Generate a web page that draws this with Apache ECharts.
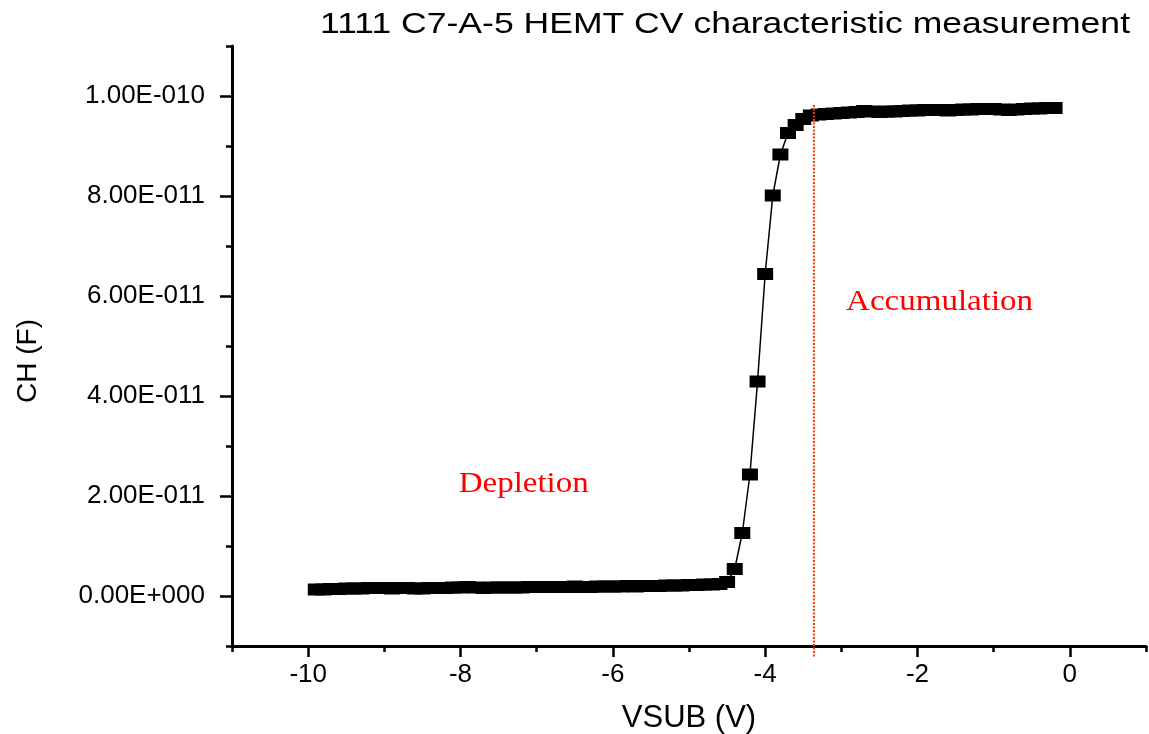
<!DOCTYPE html>
<html><head><meta charset="utf-8">
<script src="https://cdn.jsdelivr.net/npm/echarts@6/dist/echarts.min.js"></script>
<style>html,body{margin:0;padding:0;background:#fff}#c{width:1149px;height:734px}</style>
</head><body><div id="c"></div>
<script>
// ---- data ----
const vsub = [
  -9.9,-9.8,-9.7,-9.6,-9.5,-9.4,-9.3,-9.2,-9.1,-9.0,
  -8.9,-8.8,-8.7,-8.6,-8.5,-8.4,-8.3,-8.2,-8.1,-8.0,
  -7.9,-7.8,-7.7,-7.6,-7.5,-7.4,-7.3,-7.2,-7.1,-7.0,
  -6.9,-6.8,-6.7,-6.6,-6.5,-6.4,-6.3,-6.2,-6.1,-6.0,
  -5.9,-5.8,-5.7,-5.6,-5.5,-5.4,-5.3,-5.2,-5.1,-5.0,
  -4.9,-4.8,-4.7,-4.6,-4.5,-4.4,-4.3,-4.2,-4.1,-4.0,
  -3.9,-3.8,-3.7,-3.6,-3.5,-3.4,-3.3,-3.2,-3.1,-3.0,
  -2.9,-2.8,-2.7,-2.6,-2.5,-2.4,-2.3,-2.2,-2.1,-2.0,
  -1.9,-1.8,-1.7,-1.6,-1.5,-1.4,-1.3,-1.2,-1.1,-1.0,
  -0.9,-0.8,-0.7,-0.6,-0.5,-0.4,-0.3,-0.2
];
const ch = [
  1.3e-12,1.3e-12,1.4e-12,1.4e-12,1.5e-12,1.5e-12,1.5e-12,1.6e-12,1.6e-12,1.6e-12,
  1.5e-12,1.6e-12,1.6e-12,1.5e-12,1.5e-12,1.6e-12,1.6e-12,1.6e-12,1.7e-12,1.7e-12,
  1.8e-12,1.7e-12,1.6e-12,1.7e-12,1.7e-12,1.7e-12,1.7e-12,1.7e-12,1.8e-12,1.8e-12,
  1.8e-12,1.8e-12,1.8e-12,1.8e-12,1.9e-12,1.8e-12,1.8e-12,1.9e-12,1.9e-12,1.9e-12,
  1.9e-12,2.0e-12,1.9e-12,2.0e-12,2.0e-12,2.0e-12,2.1e-12,2.1e-12,2.1e-12,2.2e-12,
  2.2e-12,2.3e-12,2.3e-12,2.4e-12,2.8e-12,5.4e-12,1.26e-11,2.43e-11,4.29e-11,6.44e-11,
  8.01e-11,8.83e-11,9.26e-11,9.42e-11,9.54e-11,9.61e-11,9.63e-11,9.64e-11,9.65e-11,9.66e-11,
  9.67e-11,9.68e-11,9.70e-11,9.69e-11,9.68e-11,9.69e-11,9.69e-11,9.70e-11,9.71e-11,9.71e-11,
  9.72e-11,9.72e-11,9.72e-11,9.71e-11,9.72e-11,9.73e-11,9.73e-11,9.74e-11,9.74e-11,9.74e-11,
  9.73e-11,9.72e-11,9.73e-11,9.74e-11,9.75e-11,9.75e-11,9.76e-11,9.76e-11
];
const xMajorTicks = [-10, -8, -6, -4, -2, 0];
const xMinorTicks = [-11, -9, -7, -5, -3, -1, 1];
const yMajorTicks = [0, 2e-11, 4e-11, 6e-11, 8e-11, 1e-10];
const yMinorTicks = [-1e-11, 1e-11, 3e-11, 5e-11, 7e-11, 9e-11, 1.1e-10];
const boundaryV = [-3.36, -3.36];
const boundaryC = [9.82e-11, -1.22e-11];
const titleText = '1111 C7-A-5 HEMT CV characteristic measurement';
const annoText = ['Depletion', 'Accumulation'];
const annoV = [-7.17, -1.71];
const annoC = [2.23e-11, 5.87e-11];

function fmtE(v) {
  if (Math.abs(v) < 1e-20) return '0.00E+000';
  const s = v.toExponential(2);
  const parts = s.split('e');
  const sign = parts[1][0];
  const digits = parts[1].slice(1).padStart(3, '0');
  return parts[0] + 'E' + sign + digits;
}

const FONT = '"Liberation Sans", Arial, sans-serif';
const pts = vsub.map((v, i) => [v, ch[i]]);
const boundary = boundaryV.map((v, i) => [v, boundaryC[i]]);

const chart = echarts.init(document.getElementById('c'), null, {renderer: 'canvas'});
const xCommon = {type: 'value', min: -11, max: 1, position: 'bottom', splitLine: {show: false}};
const yCommon = {type: 'value', min: -1e-11, max: 1.1e-10, position: 'left', splitLine: {show: false}};
chart.setOption({
  animation: false,
  backgroundColor: '#fff',
  grid: {left: 232, right: 3, top: 46, bottom: 88, containLabel: false, outerBoundsMode: 'none'},
  xAxis: [
    Object.assign({}, xCommon, {
      name: 'VSUB (V)', nameLocation: 'middle', nameGap: 57,
      nameTextStyle: {fontSize: 31, fontFamily: FONT, color: '#000'},
      axisLine: {show: true, onZero: false, lineStyle: {color: '#000', width: 3}},
      axisTick: {show: true, inside: false, length: 11, customValues: xMajorTicks, lineStyle: {color: '#000', width: 2.5}},
      axisLabel: {show: true, customValues: xMajorTicks, margin: 16, fontSize: 26, fontFamily: FONT, color: '#000'}
    }),
    Object.assign({}, xCommon, {
      axisLine: {show: false, onZero: false},
      axisTick: {show: true, inside: false, length: 6, customValues: xMinorTicks, lineStyle: {color: '#000', width: 2.5}},
      axisLabel: {show: false}
    })
  ],
  yAxis: [
    Object.assign({}, yCommon, {
      name: 'CH (F)', nameLocation: 'middle', nameGap: 190,
      nameTextStyle: {fontSize: 28, fontFamily: FONT, color: '#000', padding: [0, 30, 0, 0]},
      axisLine: {show: true, onZero: false, lineStyle: {color: '#000', width: 3}},
      axisTick: {show: true, inside: false, length: 12, customValues: yMajorTicks, lineStyle: {color: '#000', width: 2.5}},
      axisLabel: {show: true, customValues: yMajorTicks, margin: 27, fontSize: 26, fontFamily: FONT, color: '#000', formatter: fmtE}
    }),
    Object.assign({}, yCommon, {
      axisLine: {show: false, onZero: false},
      axisTick: {show: true, inside: false, length: 6, customValues: yMinorTicks, lineStyle: {color: '#000', width: 2.5}},
      axisLabel: {show: false}
    })
  ],
  series: [
    {
      type: 'line', name: 'CH', data: pts, xAxisIndex: 0, yAxisIndex: 0,
      symbol: 'rect', symbolSize: [16, 12], showSymbol: true,
      itemStyle: {color: '#000'}, lineStyle: {color: '#000', width: 1.5}, z: 3
    },
    {
      type: 'line', name: 'boundary', data: boundary, xAxisIndex: 0, yAxisIndex: 0,
      symbol: 'none', clip: false,
      lineStyle: {color: '#ff3300', width: 2, type: [2, 1.5]}, z: 4
    }
  ]
});

const graphics = [{
  type: 'text', x: 320, y: 25, scaleX: 1.185,
  style: {text: titleText, fontSize: 30, fontFamily: FONT, fill: '#000', align: 'left', verticalAlign: 'middle'}
}];
annoText.forEach((t, i) => {
  const p = chart.convertToPixel({seriesIndex: 0}, [annoV[i], annoC[i]]);
  graphics.push({
    type: 'text', x: p[0], y: p[1], scaleX: 1.1,
    style: {text: t, fontSize: 30, fontFamily: '"Liberation Serif", "Times New Roman", serif', fill: '#ff0000', align: 'center', verticalAlign: 'middle'}
  });
});
chart.setOption({graphic: graphics});
</script>
</body></html>
